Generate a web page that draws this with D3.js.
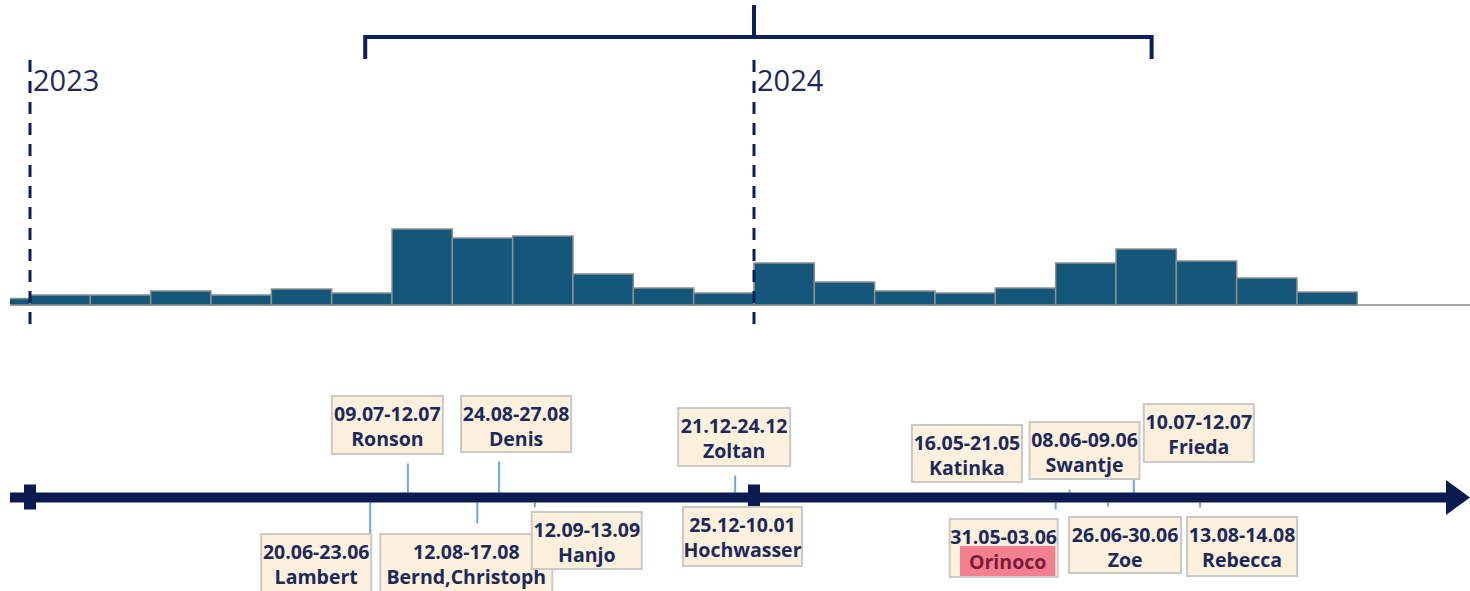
<!DOCTYPE html>
<html>
<head>
<meta charset="utf-8">
<script src="https://cdn.jsdelivr.net/npm/d3@7"></script>
<style>
  body { margin: 0; background: #fff; }
  svg { display: block; }
  .year { font-family: 'Open Sans', sans-serif; font-size: 29px; fill: #1b2a5a; }
  .box-text { font-family: 'Open Sans', sans-serif; font-weight: bold; font-size: 19.5px; fill: #1b2a5a; text-anchor: middle; }
</style>
</head>
<body>
<svg id="chart" width="1470" height="591"></svg>
<script>
'use strict';

// monthly bars (Dec 2022 is only partly visible)
var months = ['2022-12',
  '2023-01', '2023-02', '2023-03', '2023-04', '2023-05', '2023-06',
  '2023-07', '2023-08', '2023-09', '2023-10', '2023-11', '2023-12',
  '2024-01', '2024-02', '2024-03', '2024-04', '2024-05', '2024-06',
  '2024-07', '2024-08', '2024-09', '2024-10'];
var counts = [6.5,
  10, 10, 14, 10, 16, 12,
  76, 67, 69, 31, 17, 12,
  42, 23, 14, 12, 17, 42,
  56, 44, 27, 13];

var years = ['2023', '2024'];

var bracketFrom = '2023-06-19';
var bracketTo = '2024-07-20';
var bracketMid = '2024-01-01';

// events on the timeline
var eventNames = ['Lambert', 'Ronson', 'Bernd,Christoph', 'Denis', 'Hanjo', 'Zoltan', 'Hochwasser',
  'Katinka', 'Orinoco', 'Swantje', 'Zoe', 'Frieda', 'Rebecca'];
var eventStart = ['2023-06-20', '2023-07-09', '2023-08-12', '2023-08-24', '2023-09-12', '2023-12-21', '2023-12-25',
  '2024-05-16', '2024-05-31', '2024-06-08', '2024-06-26', '2024-07-10', '2024-08-13'];
var eventEnd = ['2023-06-23', '2023-07-12', '2023-08-17', '2023-08-27', '2023-09-13', '2023-12-24', '2024-01-10',
  '2024-05-21', '2024-06-03', '2024-06-09', '2024-06-30', '2024-07-12', '2024-08-14'];
var eventSide = ['below', 'above', 'below', 'above', 'below', 'above', 'below',
  'above', 'below', 'above', 'below', 'above', 'below'];
var highlighted = ['Orinoco'];

// label box placement (offset from event date, top, size, stem length)
var boxLayout = [
  { dx: -109, top: 534, w: 110, h: 60, stem: 31 },
  { dx: -76,  top: 396, w: 111, h: 58, stem: 29 },
  { dx: -97,  top: 534, w: 172, h: 62, stem: 21 },
  { dx: -38,  top: 396, w: 110, h: 56, stem: 31 },
  { dx: -3,   top: 512, w: 110, h: 57, stem: 5 },
  { dx: -57,  top: 408, w: 112, h: 58, stem: 17 },
  { dx: -73,  top: 507, w: 119, h: 59, stem: 0 },
  { dx: -116, top: 425, w: 110, h: 57, stem: 0 },
  { dx: -106, top: 519, w: 108, h: 58, stem: 7 },
  { dx: -40,  top: 422, w: 110, h: 57, stem: 3 },
  { dx: -39,  top: 517, w: 112, h: 56, stem: 4 },
  { dx: 10,   top: 404, w: 110, h: 58, stem: 13 },
  { dx: -13,  top: 517, w: 110, h: 59, stem: 5 }
];

var parse = d3.utcParse('%Y-%m-%d'),
    fmt = d3.utcFormat('%d.%m');

var navy = '#0d1f5c',
    lineY = 497.5;

var svg = d3.select('#chart');

var x = d3.scaleUtc()
  .domain([parse('2023-01-01'), parse('2024-01-01'), parse('2025-01-01')])
  .range([30, 754, 1478]);

// bars are equal-width month bins, counted from Jan 2023
var xm = d3.scaleLinear()
  .domain([0, 12])
  .range([x(parse('2023-01-01')), x(parse('2024-01-01'))]);

var y = d3.scaleLinear()
  .domain([0, 80])
  .range([305, 225]);

svg.append('defs').append('clipPath')
    .attr('id', 'clip')
  .append('rect')
    .attr('x', 10).attr('y', 0)
    .attr('width', 1460).attr('height', 591);

// ---- histogram
var bars = months.map(function(m, i) {
  var p = m.split('-');
  return { idx: (+p[0] - 2023) * 12 + (+p[1] - 1), value: counts[i] };
});

var gBars = svg.append('g').attr('clip-path', 'url(#clip)');

gBars.append('line')
  .attr('x1', 10).attr('x2', 1470)
  .attr('y1', y(0)).attr('y2', y(0))
  .attr('stroke', '#a8a8a8')
  .attr('stroke-width', 2);

gBars.selectAll('rect.bar')
  .data(bars)
  .enter().append('rect')
    .attr('class', 'bar')
    .attr('x', function(d) { return xm(d.idx); })
    .attr('width', function(d) { return xm(d.idx + 1) - xm(d.idx); })
    .attr('y', function(d) { return y(d.value); })
    .attr('height', function(d) { return y(0) - y(d.value); })
    .attr('fill', '#14577a')
    .attr('stroke', '#8e8e8e')
    .attr('stroke-width', 1.5);

// ---- year markers
var gYears = svg.append('g');

gYears.selectAll('line')
  .data(years)
  .enter().append('line')
    .attr('x1', function(d) { return x(parse(d + '-01-01')); })
    .attr('x2', function(d) { return x(parse(d + '-01-01')); })
    .attr('y1', 60).attr('y2', 325)
    .attr('stroke', navy)
    .attr('stroke-width', 3)
    .attr('stroke-dasharray', '12,9');

gYears.selectAll('text')
  .data(years)
  .enter().append('text')
    .attr('class', 'year')
    .attr('x', function(d) { return x(parse(d + '-01-01')) + 3; })
    .attr('y', 91)
    .text(function(d) { return d; });

// ---- bracket
var bx0 = x(parse(bracketFrom)),
    bx1 = x(parse(bracketTo)),
    bxm = x(parse(bracketMid));

svg.append('path')
  .attr('d', 'M' + bx0 + ',59V37H' + bx1 + 'V59M' + bxm + ',5V37')
  .attr('fill', 'none')
  .attr('stroke', navy)
  .attr('stroke-width', 4);

// ---- timeline
var events = eventNames.map(function(n, i) {
  var s = parse(eventStart[i]), e = parse(eventEnd[i]);
  return {
    name: n,
    label: fmt(s) + '-' + fmt(e),
    mid: new Date((s.getTime() + e.getTime()) / 2),
    side: eventSide[i],
    box: boxLayout[i]
  };
});

var gStems = svg.append('g');
gStems.selectAll('line')
  .data(events.filter(function(d) { return d.box.stem > 0; }))
  .enter().append('line')
    .attr('x1', function(d) { return x(d.mid); })
    .attr('x2', function(d) { return x(d.mid); })
    .attr('y1', function(d) { return d.side === 'above' ? lineY - 5 - d.box.stem : lineY + 5; })
    .attr('y2', function(d) { return d.side === 'above' ? lineY - 5 : lineY + 5 + d.box.stem; })
    .attr('stroke', '#6fa8dc')
    .attr('stroke-width', 2);

var gAxis = svg.append('g');

gAxis.append('line')
  .attr('x1', 10).attr('x2', 1450)
  .attr('y1', lineY).attr('y2', lineY)
  .attr('stroke', '#0b1a50')
  .attr('stroke-width', 10);

gAxis.append('path')
  .attr('d', 'M1446,' + (lineY - 17.5) + 'L1470,' + lineY + 'L1446,' + (lineY + 17.5) + 'Z')
  .attr('fill', '#0b1a50');

gAxis.selectAll('rect')
  .data(years)
  .enter().append('rect')
    .attr('x', function(d) { return x(parse(d + '-01-01')) - 6; })
    .attr('y', lineY - 13)
    .attr('width', 12)
    .attr('height', 25)
    .attr('fill', '#0b1a50');

// ---- label boxes
var gBoxes = svg.append('g');

var box = gBoxes.selectAll('g')
  .data(events)
  .enter().append('g')
    .attr('transform', function(d) {
      return 'translate(' + (x(d.mid) + d.box.dx) + ',' + d.box.top + ')';
    });

box.append('rect')
  .attr('width', function(d) { return d.box.w; })
  .attr('height', function(d) { return d.box.h; })
  .attr('fill', '#fdf0dc')
  .attr('stroke', '#c9c9c9')
  .attr('stroke-width', 2);

box.append('text')
  .attr('class', 'box-text')
  .attr('x', function(d) { return d.box.w / 2; })
  .attr('y', 24.5)
  .text(function(d) { return d.label; });

box.each(function(d) {
  var g = d3.select(this);
  var isHi = highlighted.indexOf(d.name) >= 0;
  var t = g.append('text')
    .attr('class', 'box-text')
    .attr('x', d.box.w / 2 + (isHi ? 4 : 0))
    .attr('y', 49.5)
    .text(d.name);
  if (isHi) {
    var bb = t.node().getBBox();
    g.insert('rect', function() { return t.node(); })
      .attr('x', bb.x - 9)
      .attr('y', 27)
      .attr('width', bb.width + 18)
      .attr('height', 30)
      .attr('fill', '#f47f8f');
    t.style('fill', '#7b1c3c');
  }
});
</script>
</body>
</html>
